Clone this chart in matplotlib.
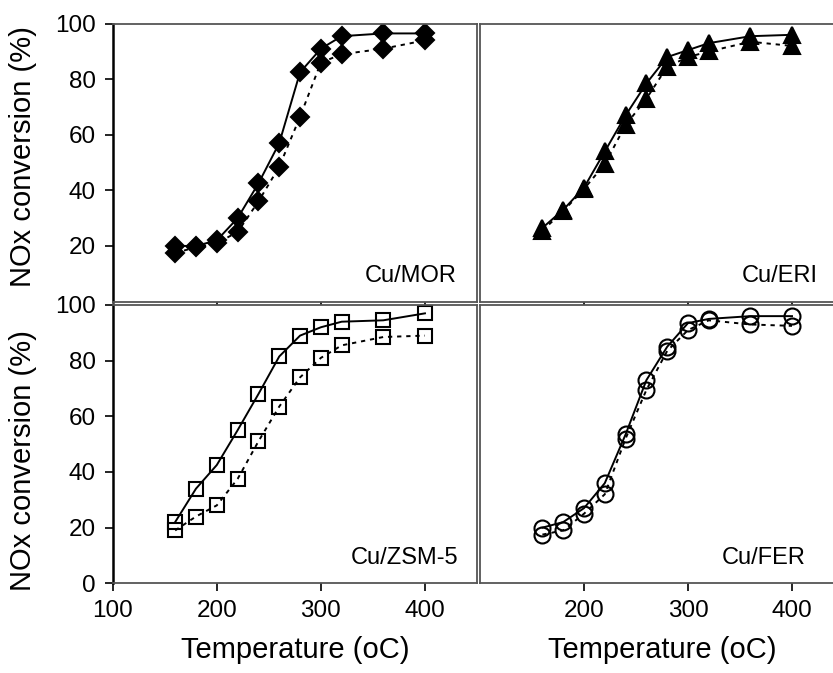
import matplotlib
matplotlib.use("Agg")
import matplotlib.pyplot as plt

plt.rcParams['font.family'] = ['Liberation Sans', 'DejaVu Sans']

# temperatures (oC) shared by all catalysts
temperature = [160, 180, 200, 220, 240, 260, 280, 300, 320, 360, 400]

# NOx conversion (%), solid and dotted curves
mor_solid = [20, 20, 22, 30, 42.5, 57, 82.5, 91, 95.5, 96.5, 96.5]
mor_dotted = [17.5, 19.5, 21, 25, 36, 48.5, 66.5, 86, 89, 91, 94]

eri_solid = [26.5, 33, 41, 54, 67, 78.5, 88, 90.5, 93, 95.5, 96]
eri_dotted = [25.5, 32.5, 40.5, 49.5, 63.5, 73, 84.5, 88, 90, 93.5, 92]

zsm_solid = [22, 34, 42.5, 55, 68, 81.5, 89, 92, 94, 94.5, 97]
zsm_dotted = [19, 24, 28, 37.5, 51, 63.5, 74, 81, 85.5, 88.5, 89]

fer_solid = [20, 22, 27, 36, 53.5, 73, 85, 93.5, 95, 96, 96]
fer_dotted = [17.5, 19, 25, 32, 52, 69.5, 83.5, 91, 94.5, 93, 92.5]

names = ['Cu/MOR', 'Cu/ERI', 'Cu/ZSM-5', 'Cu/FER']

W, H = 833, 673


def frac_box(x0, y_top, x1, y_bottom):
    # pixel box -> figure fraction
    return [x0 / W, 1 - y_bottom / H, (x1 - x0) / W, (y_bottom - y_top) / H]


def style_axes(ax, left_col, bottom_row):
    ax.set_xlim(100, 450)
    ax.set_ylim(0, 100)
    for s in ax.spines.values():
        s.set_color('#555555')
        s.set_linewidth(1.3)
    if left_col:
        ax.spines['left'].set_color('black')
        ax.spines['left'].set_linewidth(1.8)
    else:
        # right column runs off the page, no right border visible
        ax.spines['right'].set_visible(False)
    ax.tick_params(direction='out', length=6, width=1.2, labelsize=17.5,
                   colors='black', pad=6)

    if left_col:
        if bottom_row:
            ax.set_yticks([0, 20, 40, 60, 80, 100])
        else:
            ax.set_yticks([20, 40, 60, 80, 100])
        ax.set_ylabel('NOx conversion (%)', fontsize=21, va='center')
        ax.yaxis.set_label_coords(-0.245, 0.52 if not bottom_row else 0.44)
    else:
        ax.tick_params(axis='y', left=False, labelleft=False)

    if bottom_row:
        ax.set_xticks([100, 200, 300, 400] if left_col else [200, 300, 400])
        ax.set_xlabel('Temperature (oC)', fontsize=21, labelpad=10)
    else:
        ax.set_xticks([200, 300, 400])
        ax.tick_params(axis='x', length=2.5, labelbottom=False)


fig = plt.figure(figsize=(W / 100, H / 100), dpi=100)

ax_mor = fig.add_axes(frac_box(112.7, 23.7, 477, 301.5))
ax_eri = fig.add_axes(frac_box(480, 23.7, 844, 301.5))
ax_zsm = fig.add_axes(frac_box(112.7, 305, 477, 583.3))
ax_fer = fig.add_axes(frac_box(480, 305, 844, 583.3))

panels = [
    (ax_mor, mor_solid, mor_dotted, 'D', 'black', 9, True, False, 430),
    (ax_eri, eri_solid, eri_dotted, '^', 'black', 12, False, False, 425),
    (ax_zsm, zsm_solid, zsm_dotted, 's', 'none', 10, True, True, 432),
    (ax_fer, fer_solid, fer_dotted, 'o', 'none', 11.5, False, True, 413),
]

for (ax, solid, dotted, marker, face, ms, left_col, bottom_row, lx), name in zip(panels, names):
    ax.plot(temperature, dotted, linestyle=(0, (2.2, 2.5)), color='black',
            linewidth=1.4, marker=marker, markersize=ms,
            markerfacecolor=face, markeredgecolor='black', markeredgewidth=1.5)
    ax.plot(temperature, solid, linestyle='-', color='black',
            linewidth=1.4, marker=marker, markersize=ms,
            markerfacecolor=face, markeredgecolor='black', markeredgewidth=1.5)
    ax.text(lx, 7, name, ha='right', va='baseline', fontsize=17)
    style_axes(ax, left_col, bottom_row)

fig.savefig('out.png', dpi=100)
